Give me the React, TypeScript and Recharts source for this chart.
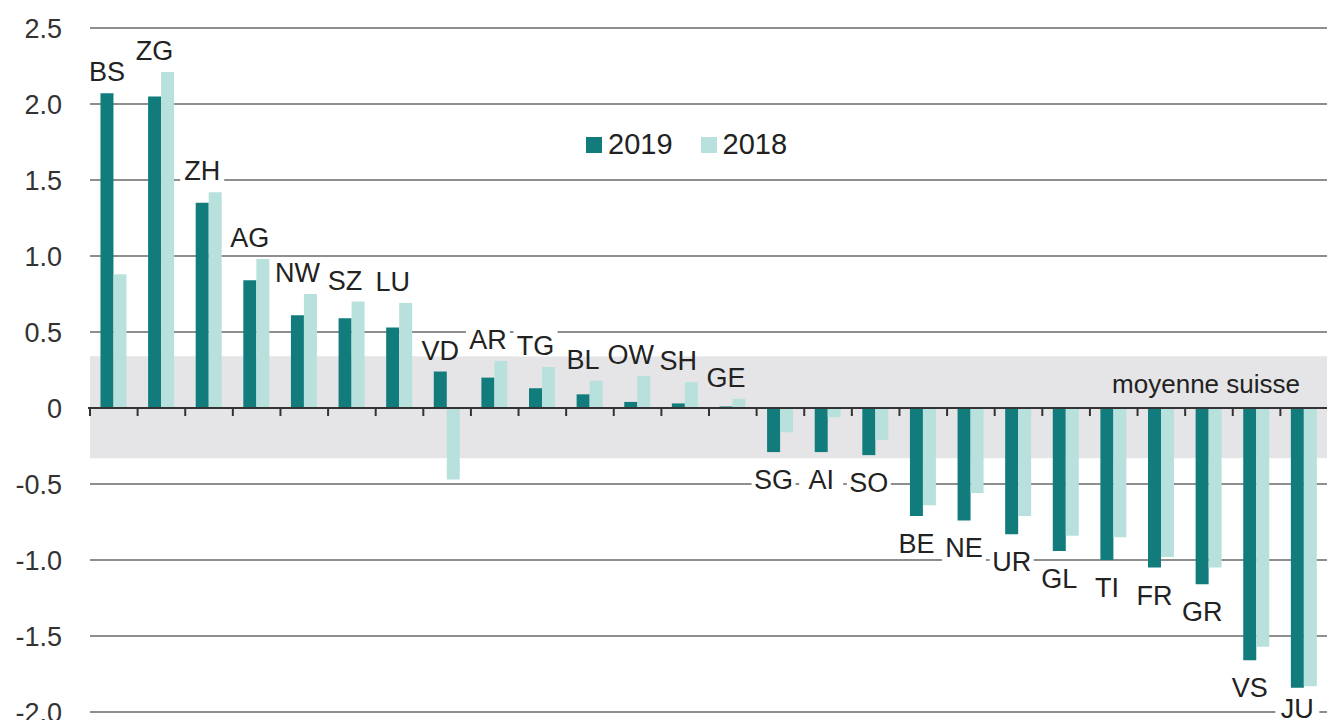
import {
  BarChart,
  Bar,
  XAxis,
  YAxis,
  CartesianGrid,
  ReferenceArea,
  ReferenceLine,
  LabelList,
} from "recharts";

const CANTONS = [
  "BS", "ZG", "ZH", "AG", "NW", "SZ", "LU", "VD", "AR", "TG", "BL", "OW", "SH",
  "GE", "SG", "AI", "SO", "BE", "NE", "UR", "GL", "TI", "FR", "GR", "VS", "JU",
];
const V2019 = [
  2.07, 2.05, 1.35, 0.84, 0.61, 0.59, 0.53, 0.24, 0.2, 0.13, 0.09, 0.04, 0.03,
  0.01, -0.29, -0.29, -0.31, -0.71, -0.74, -0.83, -0.94, -1.0, -1.05, -1.16, -1.66, -1.84,
];
const V2018 = [
  0.88, 2.21, 1.42, 0.98, 0.75, 0.7, 0.69, -0.47, 0.31, 0.27, 0.18, 0.21, 0.17,
  0.06, -0.16, -0.06, -0.21, -0.64, -0.56, -0.71, -0.84, -0.85, -0.98, -1.05, -1.57, -1.83,
];
const Y_TICKS = [-2, -1.5, -1, -0.5, 0, 0.5, 1, 1.5, 2, 2.5];
const BAND = [-0.33, 0.34];

const data = CANTONS.map((canton, i) => ({
  canton,
  v2019: V2019[i],
  v2018: V2018[i],
}));

const DARK = "#127c7d";
const LIGHT = "#b8e1de";
const BAND_FILL = "#e5e5e7";
const FONT = "'Liberation Sans', Arial, sans-serif";

const CHART_W = 1330;
const CHART_H = 720;
const MARGIN = { top: 28, right: 2, bottom: 8, left: 0 };
const Y_MIN = -2;
const Y_MAX = 2.5;

// pixel position of a value, used only to place the canton labels
const px = (v: number) =>
  MARGIN.top + ((Y_MAX - v) / (Y_MAX - Y_MIN)) * (CHART_H - MARGIN.top - MARGIN.bottom);

const fmtTick = (v: number) => (v === 0 ? "0" : v.toFixed(1));

function CantonLabel(props: any) {
  const { x, width, index } = props;
  const a = V2019[index];
  const b = V2018[index];
  const up = a >= 0;
  let cy = up ? px(Math.max(a, b, 0)) - 21 : px(Math.min(a, b)) + 28;
  cy = Math.min(cy, CHART_H - 11);
  const cx = Number(x) + Number(width) / 2;
  const name = CANTONS[index];
  const w = name.length * 18 + 8;
  let top = cy - 15;
  let bottom = cy + 15;
  if (up) bottom = Math.min(bottom, px(BAND[1]));
  else top = Math.max(top, px(BAND[0]));
  return (
    <g>
      {bottom > top && (
        <rect x={cx - w / 2} y={top} width={w} height={bottom - top} fill="#fff" />
      )}
      <text
        x={cx}
        y={cy}
        textAnchor="middle"
        dominantBaseline="central"
        fontSize={27}
        fontFamily={FONT}
        fill="#222"
      >
        {name}
      </text>
    </g>
  );
}

function ZeroAxis(props: any) {
  const { x1, x2, y1 } = props;
  const step = (x2 - x1) / CANTONS.length;
  return (
    <g>
      <line x1={x1 - 2} x2={x2} y1={y1} y2={y1} stroke="#333" strokeWidth={2} />
      {Array.from({ length: CANTONS.length + 1 }, (_, i) => (
        <line
          key={i}
          x1={x1 + i * step}
          x2={x1 + i * step}
          y1={y1}
          y2={y1 + 8}
          stroke="#333"
          strokeWidth={2}
        />
      ))}
    </g>
  );
}

function BandLabel(props: any) {
  const { viewBox } = props;
  if (!viewBox) return null;
  return (
    <text
      x={viewBox.x + viewBox.width - 28}
      y={viewBox.y + 28}
      textAnchor="end"
      dominantBaseline="central"
      fontSize={26}
      fontFamily={FONT}
      fill="#222"
    >
      moyenne suisse
    </text>
  );
}

export default function App() {
  return (
    <div
      style={{
        position: "absolute",
        left: 0,
        top: 0,
        width: 1327,
        height: 720,
        overflow: "hidden",
        background: "#fff",
      }}
    >
      <BarChart
        width={CHART_W}
        height={CHART_H}
        data={data}
        margin={MARGIN}
        barCategoryGap="22%"
        barGap={0}
      >
        <ReferenceArea
          y1={BAND[0]}
          y2={BAND[1]}
          fill={BAND_FILL}
          fillOpacity={1}
          stroke="none"
          label={<BandLabel />}
        />
        <CartesianGrid vertical={false} stroke="#8e8e8e" strokeWidth={2} />
        <XAxis dataKey="canton" hide />
        <YAxis
          domain={[Y_MIN, Y_MAX]}
          ticks={Y_TICKS}
          tickFormatter={fmtTick}
          width={90}
          axisLine={false}
          tickLine={false}
          tickSize={0}
          tickMargin={28}
          tick={{ fill: "#333", fontSize: 27, fontFamily: FONT }}
          interval={0}
        />
        <Bar dataKey="v2019" fill={DARK} isAnimationActive={false}>
          <LabelList dataKey="canton" content={<CantonLabel />} />
        </Bar>
        <Bar dataKey="v2018" fill={LIGHT} isAnimationActive={false} />
        <ReferenceLine y={0} shape={<ZeroAxis />} />
      </BarChart>
      <div
        style={{
          position: "absolute",
          left: 586,
          top: 128,
          display: "flex",
          alignItems: "center",
          fontFamily: FONT,
          fontSize: 29,
          color: "#222",
        }}
      >
        <span style={{ width: 16, height: 16, background: DARK, marginRight: 6 }} />
        <span style={{ marginRight: 28 }}>2019</span>
        <span style={{ width: 16, height: 16, background: LIGHT, marginRight: 6 }} />
        <span>2018</span>
      </div>
    </div>
  );
}
